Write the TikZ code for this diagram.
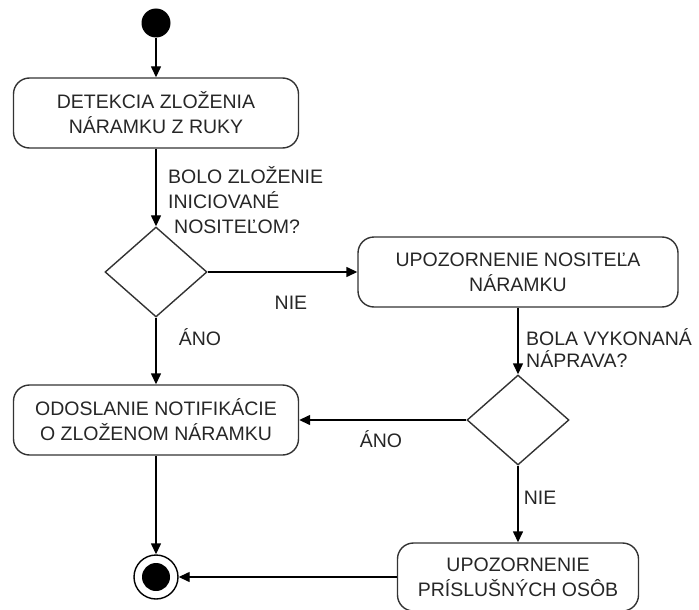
\documentclass[tikz,border=0pt]{standalone}
\usepackage{fontspec}
\setmainfont{Liberation Sans}
\usetikzlibrary{shapes.geometric,arrows.meta}

\begin{document}
\begin{tikzpicture}[x=1pt,y=-1pt,
  every node/.style={font=\fontsize{19.5}{25}\selectfont, text=black!85},
  action/.style={draw=black!80, line width=1.4pt, rounded corners=16pt,
    align=center, inner sep=0},
  decision/.style={diamond, draw=black!80, line width=1.4pt,
    minimum width=102pt, minimum height=90pt, inner sep=0},
  flow/.style={draw=black, line width=1.4pt, -{Triangle[width=10pt,length=11pt]}},
  lbl/.style={inner sep=0, align=left}]
\useasboundingbox (0,0) rectangle (699,610);

% activity nodes
\node[circle, fill=black, minimum size=29pt, inner sep=0] (start) at (156,23) {};
\node[action, minimum width=285pt, minimum height=70pt] (detect) at (156,113)
  {DETEKCIA ZLOŽENIA\\NÁRAMKU Z RUKY};
\node[decision] (q1) at (156,272) {};
\node[action, minimum width=320pt, minimum height=70pt] (warn) at (518,272)
  {UPOZORNENIE NOSITEĽA\\NÁRAMKU};
\node[decision] (q2) at (518,420) {};
\node[action, minimum width=285pt, minimum height=70pt] (notify) at (156,420)
  {ODOSLANIE NOTIFIKÁCIE\\O ZLOŽENOM NÁRAMKU};
\node[action, minimum width=241pt, minimum height=68pt] (alert) at (518,577)
  {UPOZORNENIE\\PRÍSLUŠNÝCH OSÔB};
\node[circle, draw=black, line width=1.4pt, minimum size=44pt, inner sep=0] (end) at (156,577) {};
\fill[black] (end.center) circle[radius=14pt];

% guard texts
\node[lbl, anchor=north west] (g1) at (168,166)
  {BOLO ZLOŽENIE\\INICIOVANÉ\\\hspace*{6pt}NOSITEĽOM?};
\node[lbl, anchor=north west, font=\fontsize{19.5}{22}\selectfont] (g2) at (526,328)
  {BOLA VYKONANÁ\\NÁPRAVA?};
\node[inner sep=0, anchor=base] (no1) at (291,309.5) {NIE};
\node[inner sep=0, anchor=base] (yes1) at (200,345) {ÁNO};
\node[inner sep=0, anchor=base] (yes2) at (381,447.5) {ÁNO};
\node[inner sep=0, anchor=base] (no2) at (540,504.5) {NIE};

% control flow
\draw[flow] (start) -- (detect);
\draw[flow] (detect) -- (q1);
\draw[flow] (q1.east) -- (warn.west);
\draw[flow] (q1.south) -- (notify.north);
\draw[flow] (warn.south) -- (q2.north);
\draw[flow] (q2.west) -- (notify.east);
\draw[flow] (q2.south) -- (alert.north);
\draw[flow] (notify.south) -- (end.north);
\draw[flow] (alert.west) -- (end.east);
\end{tikzpicture}
\end{document}
